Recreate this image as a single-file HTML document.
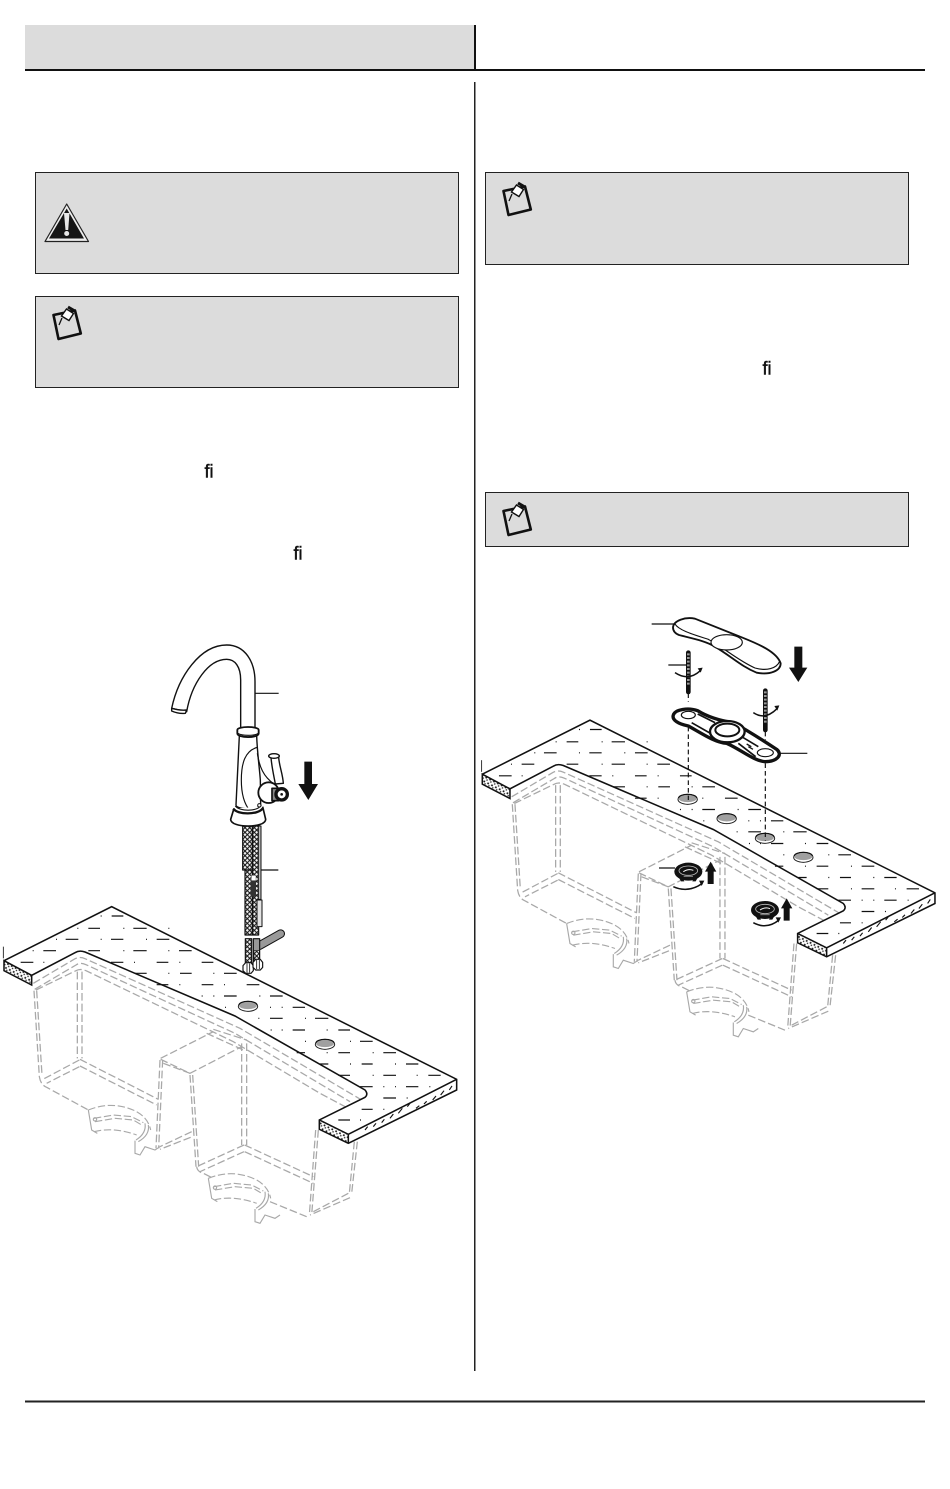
<!DOCTYPE html>
<html><head><meta charset="utf-8"><style>
html,body{margin:0;padding:0;background:#fff}
body{width:950px;height:1489px;position:relative;overflow:hidden}
svg{position:absolute;left:0;top:0}
text{font-family:"Liberation Sans",sans-serif;fill:#111;stroke:#111;stroke-width:.45}
</style></head><body>
<svg width="950" height="1489" viewBox="0 0 950 1489" xmlns="http://www.w3.org/2000/svg">
<defs>
<pattern id="dots" width="13" height="13" patternUnits="userSpaceOnUse" patternTransform="rotate(27)"><rect width="13" height="13" fill="#fff"/><rect x="2" y="2" width="5" height="5" fill="#111"/><rect x="8" y="8" width="4" height="4" fill="#222"/></pattern>
<pattern id="braid" width="14" height="14" patternUnits="userSpaceOnUse"><rect width="14" height="14" fill="#f4f4f4"/><path d="M0 0L14 14M14 0L0 14" stroke="#111" stroke-width="3.2"/></pattern>
<g id="drain" fill="none" stroke="#a8a8a8" stroke-width="3.4" stroke-dasharray="22 8">
<path d="M265 630Q340 600 410 635Q445 655 452 690"/>
<path d="M282 655L340 645L395 650L430 668M285 665L345 655L400 660L425 675"/>
<path d="M282 695Q340 680 410 705"/>
<path d="M265 630L275 690L292 700" stroke-dasharray="none"/>
<path d="M405 722V760L420 765L435 740L465 750L480 740" stroke-dasharray="none"/>
<path d="M445 675Q450 705 415 725M435 670Q440 700 408 720" stroke-dasharray="none"/>
<circle cx="285" cy="658" r="5" stroke-dasharray="none"/>
</g>
<g id="counter">
<g fill="none" stroke="#a8a8a8" stroke-width="3.8" stroke-dasharray="23 9">
<path d="M100 250L222 178Q238 168 255 176L720 385L1085 600"/>
<path d="M104 268L228 195Q240 186 258 194L705 400L1050 605"/>
<path d="M108 270L228 212Q240 205 258 212L700 425L960 580L1045 625"/>
<path d="M102 272L118 530Q122 555 140 562L265 630"/>
<path d="M110 272L126 525"/>
<path d="M232 215V475M246 215V475"/>
<path d="M238 480L125 540M238 500L140 550"/>
<path d="M240 478L475 598M240 498L470 615"/>
<path d="M480 480L468 745M488 480L476 745"/>
<path d="M482 475L640 395M490 490L570 520"/>
<path d="M482 478L570 520L725 440"/>
<path d="M640 388L740 420M620 400L730 450" />
<path d="M570 525L588 800M578 525L596 800"/>
<path d="M725 430V735M740 430V735"/>
<path d="M732 735L590 800M732 755L600 815"/>
<path d="M734 735L940 830M734 755L940 850"/>
<path d="M955 690L935 945M947 690L928 945"/>
<path d="M1072 725L1055 880M1063 725L1048 880"/>
<path d="M1050 893L930 945M1045 880L940 935"/>
<path d="M575 695L480 740M572 712L480 748"/>
<path d="M590 800Q592 815 610 820L640 835M810 905L920 950"/>
</g>
<use href="#drain"/>
<use href="#drain" transform="translate(360,205)"/>
<path d="M335 20L12 182V212L95 255V226L225 158Q238 150 255 156L705 348L1095 570Q1106 582 1095 592L958 660V688L1045 730L1370 570V538Z" fill="#fff" stroke="none"/>
<path d="M12 182L95 226V255L12 212Z" fill="url(#dots)"/>
<path d="M958 660L1045 703V730L958 688Z" fill="url(#dots)"/>
<g fill="none" stroke="#111" stroke-width="4.6">
<path d="M12 182L335 20L1370 538V570L1045 730L958 688V660L1095 592Q1106 582 1095 570L705 348L255 156Q238 150 225 158L95 226L12 182V212L95 255V226"/>
<path d="M958 660L1045 703V730M1045 703L1370 538"/>
<path d="M10 140V175" stroke-width="2.5"/>
</g>
<path d="M1095 690l8-10M1120 680l8-10M1145 668l8-10M1170 655l10-13M1195 640l12-15M1222 620l8-10M1248 625l10-8M1272 612l8-8M1298 600l10-12M1322 585l10-13M1348 570l8-12" stroke="#111" stroke-width="3.4" fill="none"/>
<path d="M335 48h35M265 85h35M400 85h40M197 118h38M333 118h37M470 118h38M130 152h38M265 152h35M400 152h40M537 152h38M62 187h38M333 187h37M470 187h35M605 187h35M405 220h35M540 220h35M672 220h38M470 254h35M605 254h35M740 254h38M672 288h38M810 288h38M878 322h37M810 355h38M945 355h40M878 390h37M1015 390h35M950 424h35M1080 424h38M890 458h25M1015 458h35M1150 458h38M960 492h25M1085 492h33M1218 492h37M1015 526h35M1150 526h38M1285 526h37M1080 560h38M1218 560h37M1150 594h38M1085 628h33M1015 660h35" stroke="#111" stroke-width="3.6" fill="none"/>
<path d="M302 48h3M232 85h3M370 85h3M505 85h3M302 118h3M168 118h3M438 118h3M98 152h3M370 152h3M505 152h3M130 187h3M402 187h3M538 187h3M505 220h3M640 220h3M538 254h3M672 254h3M605 288h3M640 288h3M778 288h3M675 322h3M810 322h3M845 322h3M775 355h3M915 355h3M812 390h3M845 390h3M980 390h3M915 424h3M1050 424h3M980 458h3M1118 458h3M1050 492h3M1185 492h3M1118 526h3M1250 526h3M1150 560h3M1185 560h3M1288 560h3M1220 594h3M1150 628h3M1080 660h3" stroke="#111" stroke-width="3.4" fill="none"/>
</g>
<g id="hole"><ellipse cx="0" cy="0" rx="29" ry="15" fill="#fff" stroke="#222" stroke-width="3"/><ellipse cx="0" cy="-2.500" rx="27" ry="11" fill="#a0a0a0"/><path d="M-27 -4A27 11 0 0 1 27 -4" fill="none" stroke="#111" stroke-width="3.500"/></g>
<g id="note">
<path d="M53.500 315L75 310.500L80.800 333.500L58.500 339Z" fill="#dcdcdc" stroke="#111" stroke-width="2.600" stroke-linejoin="round"/>
<path d="M66.500 309L73.500 313.500L69 320.500L61.500 316Z" fill="#fff" stroke="#111" stroke-width="1.400"/>
<path d="M68 307L74 310.500" stroke="#111" stroke-width="3"/>
<path d="M62 318L59 325" stroke="#111" stroke-width="1.300"/>
</g>
<g id="nut">
<ellipse cx="0" cy="0" rx="42" ry="27" fill="#111"/>
<ellipse cx="0" cy="-3" rx="28" ry="14" fill="none" stroke="#bbb" stroke-width="2.500"/>
<path d="M-15 0Q0 -10 15 -4" stroke="#fff" stroke-width="3" fill="none"/>
<path d="M-30 15l8 14h10l-6 -14ZM30 15l-8 14h-10l6 -14Z" fill="#111"/>
<path d="M-14 14H14" stroke="#888" stroke-width="3"/>
</g>
<g id="screw">
<path d="M0 0V100L0 118" stroke="#111" stroke-width="14" stroke-linecap="round" fill="none" />
<path d="M0 2V100" stroke="#999" stroke-width="8" stroke-dasharray="6 5" fill="none"/>
<path d="M-7 102L0 119L7 102Z" fill="#111"/>
</g>
</defs>

<!-- header -->
<rect x="25" y="25" width="450" height="44" fill="#dcdcdc"/>
<rect x="474" y="25" width="2" height="44" fill="#111"/>
<rect x="25" y="69" width="900" height="2" fill="#111"/>
<rect x="474" y="82" width="1.500" height="1289" fill="#222"/>
<rect x="25" y="1400.500" width="900" height="2" fill="#222"/>

<!-- boxes -->
<g fill="#dcdcdc" stroke="#222" stroke-width="1">
<rect x="35.500" y="172.500" width="423" height="101"/>
<rect x="35.500" y="296.500" width="423" height="91"/>
<rect x="485.500" y="172.500" width="423" height="92"/>
<rect x="485.500" y="492.500" width="423" height="54"/>
</g>

<!-- warning -->
<path d="M66.700 204L88.500 241.500H45Z" fill="#eee" stroke="#222" stroke-width="1.200" stroke-linejoin="round"/>
<path d="M66.700 208.500L84 238.500H49Z" fill="#161616"/>
<path d="M64 213H69.500L68.200 230H65.500Z" fill="#e8e8e8"/>
<circle cx="66.700" cy="233.500" r="2.500" fill="#e8e8e8"/>

<use href="#note"/>
<use href="#note" transform="translate(450,-124)"/>
<use href="#note" transform="translate(450,196)"/>

<text x="204.500" y="477.500" font-size="18">fi</text>
<text x="293.500" y="559.500" font-size="18">fi</text>
<text x="762.500" y="374.500" font-size="18">fi</text>

<!-- left counter -->
<use href="#counter" transform="translate(0,900) scale(.33333)"/>
<g transform="translate(0,900) scale(.33333)">
<use href="#hole" x="744" y="319"/>
<use href="#hole" x="975" y="433"/>
</g>

<!-- faucet -->
<g transform="translate(0,620) scale(.33333)" stroke="#111" stroke-width="4.2" fill="none" stroke-linejoin="round">
<path d="M515 265C535 170 600 75 680 75C735 75 765 125 765 185V325H722V180C722 140 705 118 680 118C625 118 575 190 560 275Z" fill="#fff"/>
<path d="M515 265Q538 272 560 270L556 280Q535 282 515 273Z" fill="#fff"/>
<path d="M765 220H836M783 750H835" stroke-width="3.500"/>
<!-- hoses -->
<rect x="728" y="618" width="29" height="132" fill="url(#braid)" stroke-width="3.500"/>
<rect x="735" y="750" width="22" height="195" fill="url(#braid)" stroke-width="3.500"/>
<rect x="758" y="618" width="18" height="327" fill="url(#braid)" stroke-width="3.500"/>
<rect x="775" y="618" width="8" height="220" fill="#bbb" stroke-width="3"/>
<rect x="771" y="840" width="15" height="80" fill="#e4e4e4" stroke-width="3"/>
<rect x="752" y="780" width="16" height="50" fill="#333" stroke="none"/>
<rect x="754" y="766" width="14" height="16" fill="#fff" stroke-width="1"/>
<!-- body -->
<path d="M718 348L708 555C708 570 780 570 782 555L781 480C778 440 772 400 770 348Z" fill="#fff"/>
<path d="M772 382C735 392 724 430 724 480C724 525 735 555 750 572" stroke-width="3.500"/>
<path d="M772 400C778 440 790 470 822 492" stroke-width="3.500"/>
<path d="M712 330C712 318 776 318 776 330V340C776 355 712 355 712 340Z" fill="#fff" stroke-width="5.500"/>
<path d="M714 340C725 348 765 348 775 340" stroke-width="3.500"/>
<!-- handle -->
<path d="M813 412C815 440 822 470 826 492L850 490C848 460 838 440 836 412Z" fill="#fff"/>
<ellipse cx="822" cy="408" rx="16" ry="7" fill="#fff"/>
<circle cx="806" cy="518" r="31" fill="#fff" stroke-width="5.500"/>
<path d="M816 505H836V542H816Z" fill="#888" stroke-width="5"/>
<circle cx="845" cy="523" r="17" fill="#fff" stroke-width="10"/>
<circle cx="845" cy="523" r="4" fill="#111" stroke="none"/>
<!-- base -->
<path d="M702 565L692 598C692 625 797 625 797 598L788 560" fill="#fff" stroke-width="5"/>
<path d="M700 566C712 585 775 585 788 565" stroke-width="7"/>
<path d="M706 558C720 575 770 575 784 556" stroke-width="3.500"/>
<circle cx="778" cy="556" r="5" fill="#fff" stroke-width="3"/>
<!-- arrow -->
<path d="M913 425H936V492H954L925 540L895 492H913Z" fill="#111" stroke="none"/>
</g>
<g transform="translate(0,900) scale(.33333)" stroke="#111" stroke-width="3.500" fill="none" stroke-linejoin="round">
<path d="M778 137L842 101" stroke="#111" stroke-width="26" stroke-linecap="round"/>
<path d="M778 137L842 101" stroke="#999" stroke-width="20" stroke-linecap="round"/>
<rect x="736" y="116" width="19" height="75" fill="url(#braid)" stroke-width="3.500"/>
<rect x="760" y="116" width="19" height="68" fill="#999"/>
<path d="M762 152H778V185H762Z" fill="url(#braid)" stroke-width="2"/>
<path d="M729 197L737 188H753L760 197V212L753 220H737L729 212Z" fill="#fff"/>
<path d="M759 187L767 178H781L788 187V202L781 210H767L759 202Z" fill="#fff"/>
<path d="M741 190V218M749 190V218M770 180V207M778 180V207" stroke-width="2.500"/>
</g>

<!-- right counter -->
<use href="#counter" transform="translate(478.3,713.5) scale(.33333)"/>
<g transform="translate(475,600) scale(.33333)">
<use href="#hole" x="638" y="598"/>
<use href="#hole" x="755" y="656"/>
<use href="#hole" x="870" y="715"/>
<use href="#hole" x="985" y="772"/>
<g fill="none" stroke="#111" stroke-width="3.500" stroke-linejoin="round">
<path d="M640 280V305M640 380V600M871 395V420M871 490V722" stroke-dasharray="14 9"/>
<path d="M530 72H597M580 195H634M915 460H997M552 804H600" />
<!-- cover -->
<path d="M594 82C596 62 630 50 660 56C700 72 750 92 800 112C850 132 905 155 917 190C917 212 885 226 845 218C800 200 770 170 720 140C690 122 650 115 612 105C600 100 594 92 594 82Z" fill="#fff" stroke-width="5.500"/>
<path d="M600 72C612 92 660 105 700 118C745 142 790 182 840 204C875 214 905 205 914 184" stroke-width="3.500"/>
<ellipse cx="755" cy="127" rx="47" ry="23" fill="#fff" stroke-width="3.500"/>
<!-- bracket -->
<path d="M595 345C600 328 640 322 668 332C700 352 735 362 775 368C815 390 870 425 905 448C925 465 905 485 870 485C835 482 800 450 755 430C720 428 680 400 640 378C610 372 590 360 595 345Z" fill="#fff" stroke-width="10"/>
<path d="M668 342L720 368M650 368L715 405M800 410L850 440M790 430L842 470" stroke-width="5"/>
<ellipse cx="640" cy="345" rx="21" ry="11" fill="#fff"/>
<ellipse cx="871" cy="458" rx="24" ry="12" fill="#fff"/>
<ellipse cx="757" cy="395" rx="52" ry="32" fill="#fff" stroke-width="7"/>
<ellipse cx="757" cy="390" rx="36" ry="19" fill="#fff" stroke-width="6"/>
<path d="M815 432l14 8M820 440l14 8" stroke-width="4"/>
</g>
<use href="#screw" transform="translate(640,158)"/>
<use href="#screw" transform="translate(871,272)"/>
<g fill="none" stroke="#111" stroke-width="4.500">
<path d="M600 218Q640 245 676 212"/>
<path d="M835 338Q870 362 906 326"/>
<path d="M595 860Q640 880 682 850"/>
<path d="M835 968Q875 990 912 960"/>
</g>
<g fill="#111">
<path d="M668 205L683 203L677 218Z"/>
<path d="M898 318L913 316L907 332Z"/>
<path d="M672 842L688 842L680 858Z"/>
<path d="M902 952L918 952L910 968Z"/>
<path d="M958 140H982V203H997L970 246L942 203H958Z"/>
<path d="M698 815H716V852H698ZM690 815L707 785L724 815Z"/>
<path d="M926 925H944V962H926ZM918 925L935 895L952 925Z"/>
</g>
<use href="#nut" transform="translate(640,815)"/>
<use href="#nut" transform="translate(870,930)"/>
</g>
</svg>
</body></html>
